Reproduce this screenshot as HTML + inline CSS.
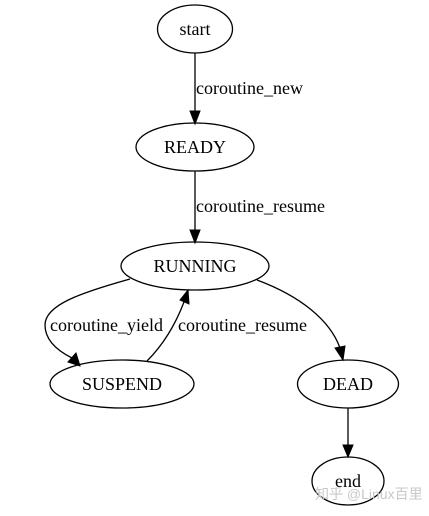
<!DOCTYPE html>
<html><head><style>html,body{margin:0;padding:0;background:#fff;}svg{display:block}
.t{font-family:"Liberation Serif","Times New Roman",serif;font-size:18px;}
.w{font-family:"Liberation Sans","Noto Sans CJK SC",sans-serif;font-size:14px;}
</style></head>
<body>
<svg width="429" height="516" viewBox="0 0 429 516" xmlns="http://www.w3.org/2000/svg">
<g fill="none" stroke="#000" stroke-width="1.3">
<ellipse cx="195" cy="29" rx="37.5" ry="24"/>
<ellipse cx="195" cy="147" rx="59" ry="24"/>
<ellipse cx="195" cy="266" rx="74" ry="24"/>
<ellipse cx="122" cy="384" rx="72" ry="24"/>
<ellipse cx="348" cy="384" rx="50.5" ry="24"/>
<ellipse cx="348" cy="481" rx="36" ry="24"/>
<path d="M195 53 L195 113"/>
<path d="M195 171 L195 232"/>
<path d="M130 279 C80 293 45 305 45 325 C45 342 60 352 72 358"/>
<path d="M147 361 C165 343 176 323 184 302"/>
<path d="M257 280 C300 296 330 320 340 348"/>
<path d="M348 408 L348 446"/>
</g>
<g fill="#000" stroke="#000" stroke-width="1">
<polygon points="190,111 200,111 195,124"/>
<polygon points="190,230 200,230 195,243"/>
<polygon points="68,362 76,353 80,366"/>
<polygon points="180,300 189,304 188,290"/>
<polygon points="335,348 345,346 343,360"/>
<polygon points="343,445 353,445 348,457"/>
</g>
<g class="t" fill="#000" text-anchor="middle">
<text x="195" y="35">start</text>
<text x="195" y="153">READY</text>
<text x="195" y="272">RUNNING</text>
<text x="122" y="390">SUSPEND</text>
<text x="348" y="390">DEAD</text>
<text x="348" y="487">end</text>
</g>
<g class="t" fill="#000">
<text x="196" y="94">coroutine_new</text>
<text x="196" y="212">coroutine_resume</text>
<text x="50" y="331">coroutine_yield</text>
<text x="178" y="331">coroutine_resume</text>
</g>
<text class="w" x="315" y="499" fill="#c8c8c8">知乎 @Linux百里</text>
</svg>
</body></html>
